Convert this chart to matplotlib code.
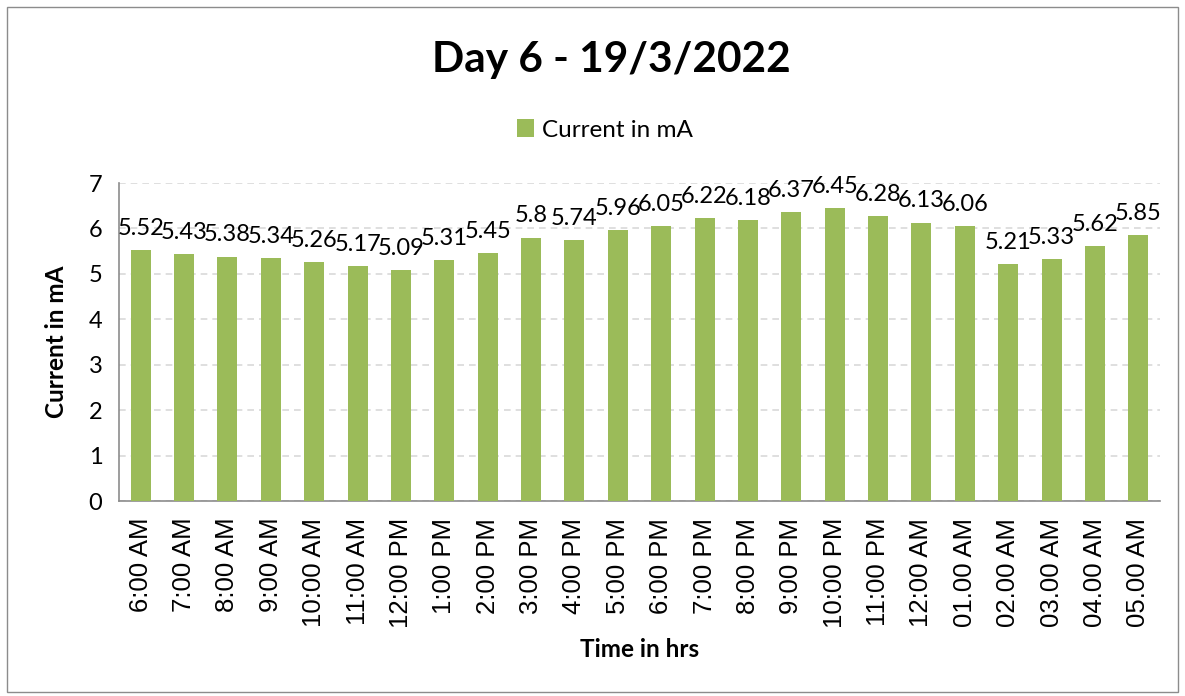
import matplotlib
matplotlib.use("Agg")
import matplotlib.pyplot as plt
from matplotlib.patches import Rectangle

times = ["6:00 AM", "7:00 AM", "8:00 AM", "9:00 AM", "10:00 AM", "11:00 AM",
         "12:00 PM", "1:00 PM", "2:00 PM", "3:00 PM", "4:00 PM", "5:00 PM",
         "6:00 PM", "7:00 PM", "8:00 PM", "9:00 PM", "10:00 PM", "11:00 PM",
         "12:00 AM", "01.00 AM", "02.00 AM", "03.00 AM", "04.00 AM", "05.00 AM"]
current = [5.52, 5.43, 5.38, 5.34, 5.26, 5.17, 5.09, 5.31, 5.45, 5.8, 5.74, 5.96,
           6.05, 6.22, 6.18, 6.37, 6.45, 6.28, 6.13, 6.06, 5.21, 5.33, 5.62, 5.85]
labels = ["5.52", "5.43", "5.38", "5.34", "5.26", "5.17", "5.09", "5.31", "5.45", "5.8",
          "5.74", "5.96", "6.05", "6.22", "6.18", "6.37", "6.45", "6.28", "6.13", "6.06",
          "5.21", "5.33", "5.62", "5.85"]

W, H = 1185, 696
fig = plt.figure(figsize=(W / 100, H / 100), dpi=100)
fig.patches.append(Rectangle((7 / W, 4 / H), (W - 14) / W, (H - 11) / H, transform=fig.transFigure,
                             fill=False, edgecolor="#8c8c8c", linewidth=1.0))

ax = fig.add_axes([119 / W, 1 - 501 / H, (1160 - 119) / W, (501 - 183) / H])
green = "#9BBB59"
x = list(range(len(times)))
bars = ax.bar(x, current, width=0.46, color=green, label="Current in mA", zorder=3)
ax.set_xlim(-0.5, len(times) - 0.5)
ax.set_ylim(0, 7)
ax.set_yticks(range(8))
ax.yaxis.grid(True, linestyle=(0, (4, 3)), color="#d9d9d9", linewidth=1.2, zorder=0)
ax.set_axisbelow(True)
for s in ["top", "right"]:
    ax.spines[s].set_visible(False)
for s in ["left", "bottom"]:
    ax.spines[s].set_color("#8c8c8c")
    ax.spines[s].set_linewidth(1.2)
ax.tick_params(axis="both", length=0)
ax.tick_params(axis="y", pad=12, labelsize=17)
ax.set_xticks(x)
ax.set_xticklabels(times, rotation=90, fontsize=18.5, family="Liberation Sans")
ax.tick_params(axis="x", pad=12)
for lab in ax.get_yticklabels():
    lab.set_family("Lato")

for xi, v, t in zip(x, current, labels):
    ax.annotate(t, (xi, v), xytext=(0, 8), textcoords="offset points",
                ha="center", va="bottom", fontsize=17, family="Lato", color="#000000", zorder=4)

ax.set_ylabel("Current in mA", fontsize=17.5, fontweight="bold", family="Lato", labelpad=15)
ax.set_xlabel("Time in hrs", fontsize=17.5, fontweight="bold", family="Lato", labelpad=7)

fig.text(611 / W, 1 - 60 / H, "Day 6 - 19/3/2022", ha="center", va="center",
         fontsize=30.5, fontweight="bold", family="Lato")
leg = fig.legend(handles=[bars], labels=["Current in mA"], loc="center",
                 bbox_to_anchor=(605 / W, 1 - 130 / H), frameon=False,
                 prop={"family": "Lato", "size": 17.5}, handlelength=0.7, handleheight=0.7,
                 handletextpad=0.3)

fig.savefig("out.png", dpi=100)
